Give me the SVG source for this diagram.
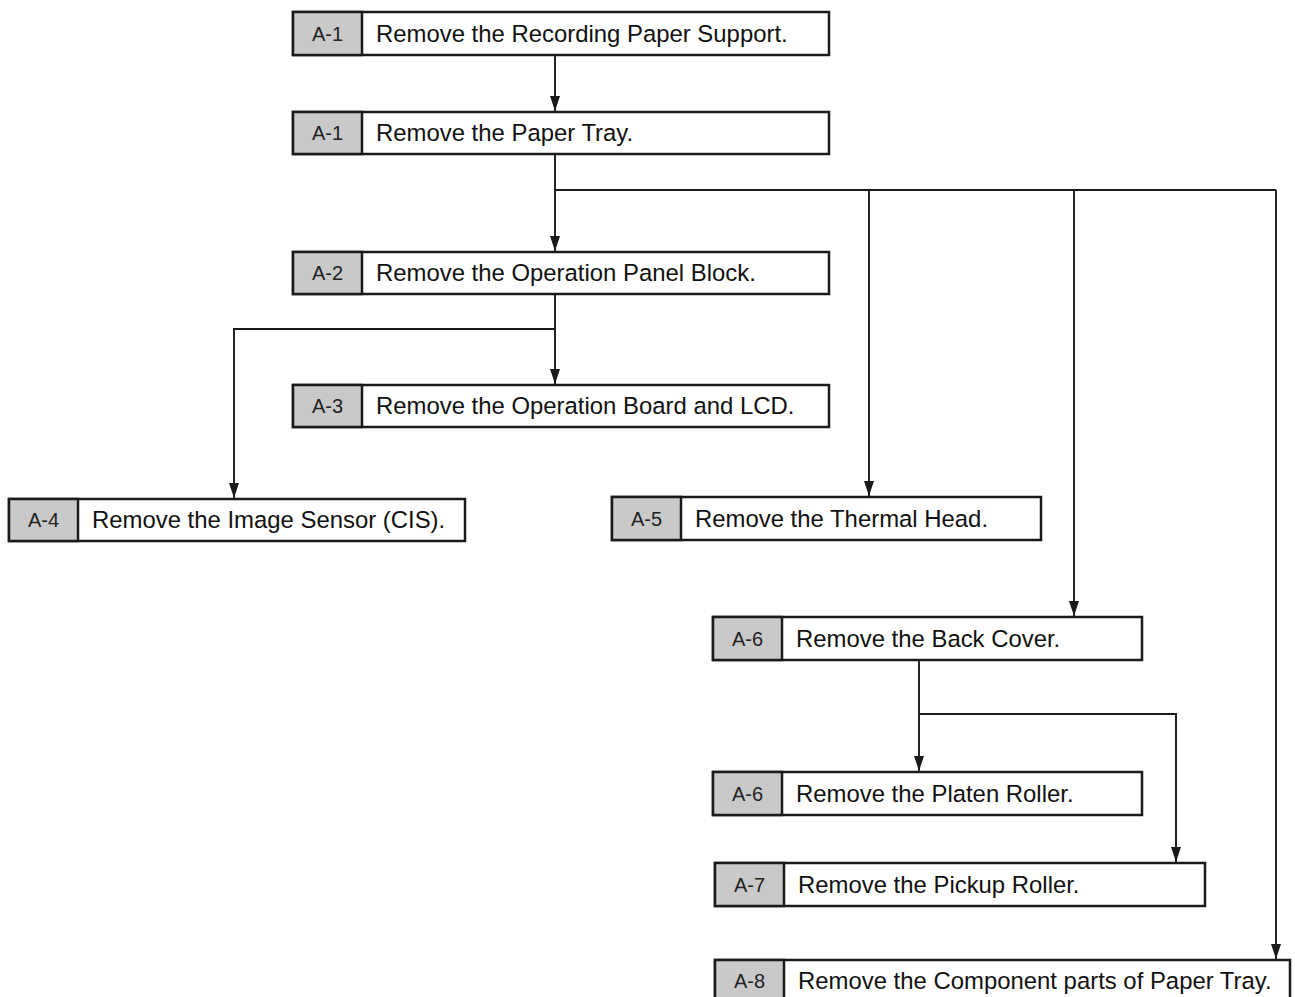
<svg xmlns="http://www.w3.org/2000/svg" width="1295" height="997" viewBox="0 0 1295 997">
  <style>
    .box { fill: #ffffff; stroke: #1a1a1a; stroke-width: 2.5; }
    .tag { fill: #c9c9c9; stroke: #1a1a1a; stroke-width: 2.5; }
    .tagtxt { font-family: "Liberation Sans", Arial, sans-serif; font-size: 20px; fill: #222; text-anchor: middle; }
    .txt { font-family: "Liberation Sans", Arial, sans-serif; font-size: 23.9px; fill: #111; }
    .wire { fill: none; stroke: #1a1a1a; stroke-width: 1.9; }
  </style>
  <defs>
    <marker id="arrow" viewBox="0 0 15 11" refX="15" refY="5.5" markerWidth="15" markerHeight="11" markerUnits="userSpaceOnUse" orient="auto">
      <path d="M0,0.5 L15,5.5 L0,10.5 Z" fill="#1a1a1a"/>
    </marker>
  </defs>
  <rect width="1295" height="997" fill="#ffffff"/>

  <!-- connectors -->
  <g id="connectors">
    <path class="wire" d="M555,55 V111" marker-end="url(#arrow)"/>
    <path class="wire" d="M555,154 V251" marker-end="url(#arrow)"/>
    <path class="wire" d="M555,190 H1276"/>
    <path class="wire" d="M869,190 V496" marker-end="url(#arrow)"/>
    <path class="wire" d="M1074,190 V616" marker-end="url(#arrow)"/>
    <path class="wire" d="M1276,190 V959" marker-end="url(#arrow)"/>
    <path class="wire" d="M555,294 V384" marker-end="url(#arrow)"/>
    <path class="wire" d="M555,329 H234 V498" marker-end="url(#arrow)"/>
    <path class="wire" d="M919,660 V771" marker-end="url(#arrow)"/>
    <path class="wire" d="M919,714 H1176 V862" marker-end="url(#arrow)"/>
  </g>

  <g id="n1">
    <rect class="box" x="293" y="12" width="536" height="43"/>
    <rect class="tag" x="293" y="12" width="69" height="43"/>
    <text class="tagtxt" x="327.5" y="41">A-1</text>
    <text class="txt" x="376" y="42">Remove the Recording Paper Support.</text>
  </g>
  <g id="n2">
    <rect class="box" x="293" y="112" width="536" height="42"/>
    <rect class="tag" x="293" y="112" width="69" height="42"/>
    <text class="tagtxt" x="327.5" y="140">A-1</text>
    <text class="txt" x="376" y="141">Remove the Paper Tray.</text>
  </g>
  <g id="n3">
    <rect class="box" x="293" y="252" width="536" height="42"/>
    <rect class="tag" x="293" y="252" width="69" height="42"/>
    <text class="tagtxt" x="327.5" y="280">A-2</text>
    <text class="txt" x="376" y="281">Remove the Operation Panel Block.</text>
  </g>
  <g id="n4">
    <rect class="box" x="293" y="385" width="536" height="42"/>
    <rect class="tag" x="293" y="385" width="69" height="42"/>
    <text class="tagtxt" x="327.5" y="413">A-3</text>
    <text class="txt" x="376" y="414">Remove the Operation Board and LCD.</text>
  </g>
  <g id="n5">
    <rect class="box" x="9" y="499" width="456" height="42"/>
    <rect class="tag" x="9" y="499" width="69" height="42"/>
    <text class="tagtxt" x="43.5" y="527">A-4</text>
    <text class="txt" x="92" y="528">Remove the Image Sensor (CIS).</text>
  </g>
  <g id="n6">
    <rect class="box" x="612" y="497" width="429" height="43"/>
    <rect class="tag" x="612" y="497" width="69" height="43"/>
    <text class="tagtxt" x="646.5" y="526">A-5</text>
    <text class="txt" x="695" y="527">Remove the Thermal Head.</text>
  </g>
  <g id="n7">
    <rect class="box" x="713" y="617" width="429" height="43"/>
    <rect class="tag" x="713" y="617" width="69" height="43"/>
    <text class="tagtxt" x="747.5" y="646">A-6</text>
    <text class="txt" x="796" y="647">Remove the Back Cover.</text>
  </g>
  <g id="n8">
    <rect class="box" x="713" y="772" width="429" height="43"/>
    <rect class="tag" x="713" y="772" width="69" height="43"/>
    <text class="tagtxt" x="747.5" y="801">A-6</text>
    <text class="txt" x="796" y="802">Remove the Platen Roller.</text>
  </g>
  <g id="n9">
    <rect class="box" x="715" y="863" width="490" height="43"/>
    <rect class="tag" x="715" y="863" width="69" height="43"/>
    <text class="tagtxt" x="749.5" y="892">A-7</text>
    <text class="txt" x="798" y="893">Remove the Pickup Roller.</text>
  </g>
  <g id="n10">
    <rect class="box" x="715" y="960" width="575" height="44"/>
    <rect class="tag" x="715" y="960" width="69" height="44"/>
    <text class="tagtxt" x="749.5" y="988">A-8</text>
    <text class="txt" x="798" y="989">Remove the Component parts of Paper Tray.</text>
  </g>
</svg>
